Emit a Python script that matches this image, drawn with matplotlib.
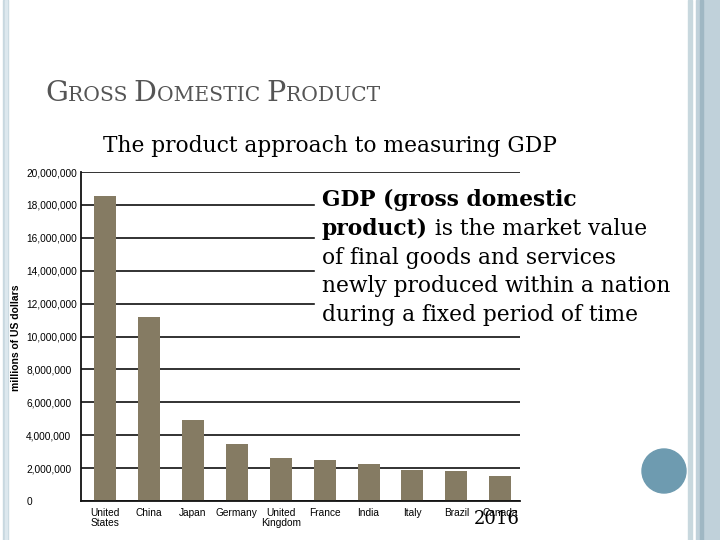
import matplotlib.pyplot as plt
from matplotlib.patches import Rectangle, Ellipse
from matplotlib.ticker import FuncFormatter

# datos (PIB 2016, millones de USD)
paises = ["United\nStates", "China", "Japan", "Germany", "United\nKingdom",
          "France", "India", "Italy", "Brazil", "Canada"]
pib = [18570000, 11200000, 4940000, 3470000, 2630000,
       2470000, 2260000, 1860000, 1800000, 1530000]
yticks = list(range(0, 20000001, 2000000))

W, H = 720, 540
fig = plt.figure(figsize=(7.2, 5.4), dpi=100)
fig.patch.set_facecolor("white")

def fx(px):
    return px / W

def fy(py):
    return 1 - py / H

# ejes del grafico
ax = fig.add_axes([fx(81), fy(501), fx(520) - fx(81), fy(172) - fy(501)])
ax.bar(range(len(paises)), pib, width=0.5, color="#857b63", zorder=3)
ax.set_xlim(-0.55, 9.45)
ax.set_ylim(0, 20000000)
ax.set_yticks(yticks)
ax.yaxis.set_major_formatter(FuncFormatter(lambda v, p: f"{int(v):,}"))
ax.set_xticks(range(len(paises)))
ax.set_xticklabels(paises, fontfamily="Liberation Sans", fontsize=7.3,
                   linespacing=1.0)
for lab in ax.get_yticklabels():
    lab.set_fontfamily("Liberation Sans")
    lab.set_fontsize(7.3)
    lab.set_horizontalalignment("left")
ax.tick_params(axis="y", length=0, pad=39.5)
ax.tick_params(axis="x", length=0, pad=5)
ax.grid(axis="y", color="#222222", linewidth=1.3, zorder=0)
for s in ["top", "right"]:
    ax.spines[s].set_visible(False)
for s in ["left", "bottom"]:
    ax.spines[s].set_color("#111111")
    ax.spines[s].set_linewidth(1.3)
    ax.spines[s].set_zorder(4)
fig.text(fx(16), fy(338), "millions of US dollars", rotation=90,
         ha="center", va="center", fontfamily="Liberation Sans",
         fontsize=7.5, fontweight="bold")

# decoracion de la diapositiva
fig.patches.append(Rectangle((fx(3), 0), fx(5), 1, transform=fig.transFigure,
                             color="#c8d8e0", zorder=1))
fig.patches.append(Rectangle((fx(5), 0), fx(1.5), 1, transform=fig.transFigure,
                             color="#dde8ee", zorder=1))
fig.patches.append(Rectangle((fx(688), 0), fx(4), 1, transform=fig.transFigure,
                             color="#c8d8de", zorder=1))
fig.patches.append(Rectangle((fx(696), 0), fx(24), 1, transform=fig.transFigure,
                             color="#c0d1da", zorder=1))
fig.patches.append(Rectangle((fx(700), 0), fx(3), 1, transform=fig.transFigure,
                             color="#9fb7c3", zorder=1))
fig.patches.append(Ellipse((fx(664), fy(471)), 44 / W, 44 / H,
                           transform=fig.transFigure, color="#6e9bb0", zorder=2))
# caja blanca del texto
fig.patches.append(Rectangle((fx(315), fy(332)), fx(370), fy(180) - fy(332),
                             transform=fig.transFigure, color="white", zorder=1))

# titulo en versalitas
r = fig.canvas.get_renderer()
x = fx(45)
for palabra in ["Gross", "Domestic", "Product"]:
    for trozo, tam in [(palabra[0], 20.5), (palabra[1:].upper() + " ", 14.6)]:
        t = fig.text(x, fy(101), trozo, fontsize=tam, fontfamily="DejaVu Serif",
                     color="#555555", va="baseline")
        x += t.get_window_extent(r).width / W

fig.text(fx(103), fy(152), "The product approach to measuring GDP",
         fontsize=15.7, fontfamily="DejaVu Serif", va="baseline")

# definicion
serif = dict(fontsize=15.7, fontfamily="DejaVu Serif", va="baseline")
fig.text(fx(322), fy(206), "GDP (gross domestic", fontweight="bold", **serif)
t = fig.text(fx(322), fy(235), "product)", fontweight="bold", **serif)
w = t.get_window_extent(r).width / W
fig.text(fx(322) + w, fy(235), " is the market value", **serif)
fig.text(fx(322), fy(264), "of final goods and services", **serif)
fig.text(fx(322), fy(292), "newly produced within a nation", **serif)
fig.text(fx(322), fy(321), "during a fixed period of time", **serif)

fig.text(fx(474), fy(524), "2016", fontsize=13, fontfamily="DejaVu Serif",
         va="baseline")

fig.savefig("out.png", dpi=100)
